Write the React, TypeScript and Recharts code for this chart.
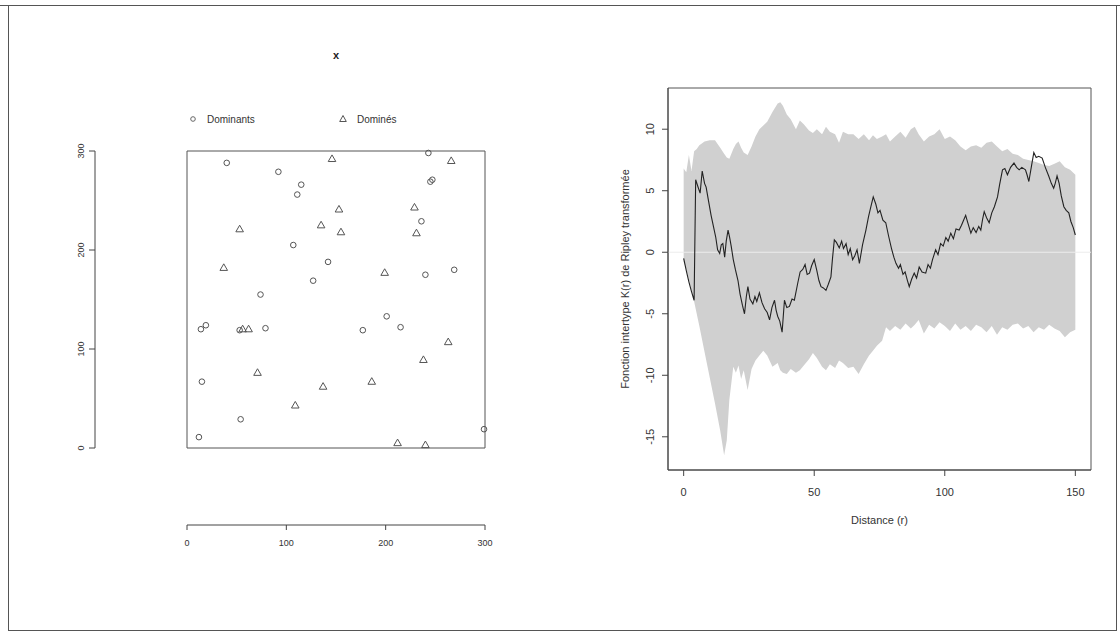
import React from 'react';
import {
  ScatterChart,
  Scatter,
  ComposedChart,
  Area,
  Line,
  XAxis,
  YAxis,
  ReferenceArea,
  ReferenceLine,
  Legend,
} from 'recharts';

const FONT = '"Liberation Sans", Arial, Helvetica, sans-serif';

// --- semis de points (à gauche) ---
const seriesNames = ['Dominants', 'Dominés'];
const domX = [40, 92, 115, 111, 243, 247, 245, 236, 107, 142, 240, 269, 127, 74, 201, 14, 19, 53, 79, 177, 215, 15, 54, 12, 299];
const domY = [288, 279, 266, 256, 298, 271, 269, 229, 205, 188, 175, 180, 169, 155, 133, 120, 124, 119, 121, 119, 122, 67, 29, 11, 19];
const subX = [146, 266, 153, 229, 53, 135, 155, 231, 37, 199, 56, 62, 263, 238, 71, 137, 186, 109, 212, 240];
const subY = [292, 290, 241, 243, 221, 225, 218, 217, 182, 177, 120, 120, 107, 89, 76, 62, 67, 43, 5, 3];
const winTicks = [0, 100, 200, 300];

// --- enveloppe de simulation (à droite) ---
const envR = [
  0, 1, 2, 3, 4, 5, 6, 8, 10, 12,
  14, 15.5, 16.5, 17.5, 19, 20, 21, 22, 23, 24.5,
  26, 27.5, 29, 30.5, 32, 34, 36, 37, 38, 39.5,
  41, 43, 44.5, 46, 48, 49.5, 51, 53, 54.5, 56,
  58, 59.5, 61, 63, 65, 67, 69, 71, 72.5, 74,
  76, 77.5, 79, 81, 83, 85, 87, 88.5, 90, 92,
  94, 96, 98, 100, 102, 104, 106, 108, 110, 112,
  114, 116, 118, 120, 122, 124, 126, 128, 130, 132,
  134, 136, 138, 140, 142, 144, 146, 148, 150,
];
const envHigh = [
  6.8, 6.5, 7.9, 6.6, 8.2, 8.4, 8.7, 9.0, 9.1, 9.1,
  8.5, 8.0, 7.7, 7.6, 8.4, 8.8, 9.0, 8.5, 8.1, 7.9,
  8.6, 9.4, 10.0, 10.3, 10.6, 11.4, 12.1, 12.2, 11.9, 11.2,
  10.8, 10.0, 10.7, 10.4, 9.9, 9.7, 10.0, 9.6, 10.2, 9.8,
  9.6, 8.9, 9.8, 9.6, 9.6, 9.2, 9.6, 9.1, 9.5, 9.2,
  9.4, 9.6, 9.0, 9.4, 9.8, 9.3, 10.0, 10.2, 9.6, 9.0,
  9.4, 9.6, 10.0, 9.2, 9.4, 9.1, 8.6, 8.3, 8.6, 8.7,
  8.5, 8.9, 9.0, 8.6, 8.2, 8.4, 8.0, 7.9, 7.6, 7.5,
  7.4, 7.25, 7.1, 7.0, 7.2, 7.4, 6.9, 6.7, 6.3,
];
const envLow = [
  -0.8, -1.4, -2.2, -3.1, -4.0, -5.0, -6.0, -8.1, -10.2, -12.3,
  -14.5, -16.5, -15.3, -12.0, -9.3, -9.8, -9.2, -10.3, -9.6, -11.2,
  -9.5, -8.8, -8.4, -8.0, -8.4, -9.3, -9.0, -9.6, -9.8, -9.9,
  -9.5, -9.8, -9.6, -9.2, -8.7, -8.2, -8.6, -9.3, -9.6, -9.1,
  -9.4, -8.8, -9.0, -9.4, -9.3, -9.9, -9.1, -8.4, -8.0, -7.6,
  -7.2, -6.1, -6.4, -6.0, -6.3, -5.8, -6.2, -5.9, -5.5, -6.6,
  -5.9, -6.2, -5.7, -6.0, -6.4, -5.8, -6.3, -6.0, -6.4, -5.9,
  -6.1, -6.5, -6.0, -6.7, -6.1, -6.3, -5.9, -5.8, -6.2, -6.0,
  -6.5, -6.1, -6.3, -5.9, -6.2, -6.4, -6.9, -6.5, -6.3,
];

// --- K(r) observée ---
const kR = [
  0, 1, 2, 3, 4, 4.6, 5.5, 6.3, 7.1, 8,
  8.6, 9.5, 10.5, 11.5, 12.3, 13, 13.8, 14.4, 15, 15.7,
  16.3, 17, 17.6, 18.2, 19, 19.8, 20.8, 21.6, 22.5, 23.3,
  24, 24.6, 25.4, 26.5, 27.3, 28, 29, 30, 31, 32,
  32.9, 33.8, 34.8, 35.4, 36, 36.8, 37.7, 38.6, 39.5, 40.5,
  41.5, 42.4, 43.7, 44.6, 45.6, 46.5, 47.3, 48.2, 49, 50,
  51, 51.8, 52.6, 53.5, 54.5, 55.4, 56.4, 57, 57.7, 58.5,
  59.6, 60.5, 61.2, 62.2, 63, 63.8, 64.7, 65.5, 66.4, 67.3,
  68.5, 69.8, 70.8, 71.7, 72.6, 73.6, 74.4, 75.2, 76.3, 77.4,
  78.5, 79.6, 80.5, 81.3, 82.3, 83, 84, 84.8, 85.7, 86.4,
  87.3, 88.3, 89.2, 90.2, 91.3, 92.7, 93.6, 94.5, 95.3, 96.5,
  97.4, 98.4, 99.4, 100.4, 101.3, 102.3, 103.3, 104.3, 105.5, 106.4,
  107.2, 108, 108.8, 110, 110.9, 112, 113, 113.8, 114.5, 115.1,
  116, 117, 118, 119, 120.2, 121, 122.1, 123, 124, 125.2,
  126.5, 127.5, 128.5, 129.5, 130.9, 131.5, 132.2, 133.2, 134.1, 135,
  136, 137.3, 138.5, 139.8, 140.8, 141.7, 142.3, 143, 143.8, 144.6,
  145.6, 146.5, 147.5, 148.3, 149.2, 150,
];
const kVal = [
  -0.5, -1.5, -2.4, -3.2, -3.9, 5.9, 5.3, 4.8, 6.6, 5.6,
  5.3, 4.2, 3.0, 2.0, 1.2, 0.2, -0.1, 0.6, 0.7, -0.4,
  0.9, 1.8, 1.2, 0.5, -0.6, -1.4, -2.3, -3.4, -4.3, -5.0,
  -3.6, -2.8, -3.8, -4.2, -3.6, -4.0, -3.3, -4.1, -4.6, -4.9,
  -5.5, -4.5, -3.9, -4.7, -5.2, -5.6, -6.5, -3.9, -4.5, -4.4,
  -3.8, -3.9, -2.5, -1.6, -1.4, -1.0, -1.8, -1.7, -1.1, -0.6,
  -1.5, -2.3, -2.8, -2.9, -3.1, -2.6, -2.0, -0.5, 1.0, 0.8,
  0.35, 0.9, 0.3, 0.7, -0.2, 0.3, -0.6, -0.3, 0.2, -0.9,
  0.6, 1.8, 2.9, 3.7, 4.5, 3.9, 3.2, 3.4, 2.6, 2.4,
  1.3, 0.3, -0.4, -0.9, -1.3, -1.0, -1.8, -1.6, -2.3, -2.8,
  -2.2, -1.7, -2.1, -1.2, -1.6, -1.7, -1.0, -1.3, -0.6, 0.2,
  -0.2, 0.7, 0.5, 1.2, 0.9, 1.55, 1.1, 1.9, 1.8, 2.2,
  2.6, 3.0, 2.4, 1.55, 2.0, 1.6, 2.1, 1.8, 2.7, 3.3,
  2.8, 2.4, 3.2, 3.7, 4.5, 5.5, 6.7, 6.8, 6.3, 6.9,
  7.25, 6.9, 6.7, 6.9, 6.7, 6.3, 5.75, 7.0, 8.1, 7.7,
  7.8, 7.65, 6.9, 6.2, 5.6, 5.2, 5.6, 6.2, 5.6, 4.6,
  3.7, 3.4, 3.2, 2.5, 2.0, 1.4,
];
const distTicks = [0, 50, 100, 150];
const kTicks = [-15, -10, -5, 0, 5, 10];

const domData = domX.map((x, i) => ({ x, y: domY[i] }));
const subData = subX.map((x, i) => ({ x, y: subY[i] }));
const envData = envR.map((r, i) => ({ r, lo: envLow[i], hi: envHigh[i] }));
const kData = kR.map((r, i) => ({ r, k: kVal[i] }));

const INK = '#444';

// symboles ouverts façon R (pch 1 et 2)
const OpenCircle = (p: any) => (
  <circle cx={p.cx} cy={p.cy} r={2.8} fill="none" stroke="#555" strokeWidth={1} />
);
const OpenTriangle = (p: any) => (
  <path
    d={`M${p.cx},${p.cy - 4}L${p.cx + 3.8},${p.cy + 2.6}L${p.cx - 3.8},${p.cy + 2.6}Z`}
    fill="none"
    stroke="#555"
    strokeWidth={1}
  />
);

// étiquettes verticales des graduations (las = 0)
const SideTick = ({ x, y, payload, shift, size }: any) => {
  const bx = x - shift;
  return (
    <text
      x={bx}
      y={y}
      transform={`rotate(-90 ${bx} ${y})`}
      textAnchor="middle"
      fontSize={size}
      fontFamily={FONT}
      fill="#333"
    >
      {payload.value}
    </text>
  );
};

const PatternLegend = ({ payload }: any) => {
  const names: string[] = payload && payload.length ? payload.map((p: any) => p.value) : seriesNames;
  return (
    <div style={{ display: 'flex', fontFamily: FONT, fontSize: 10, color: '#333' }}>
      {names.map((name, i) => (
        <div key={name} style={{ width: 150, display: 'flex', alignItems: 'center' }}>
          <svg width={19} height={12}>
            {i === 0 ? (
              <circle cx={5} cy={6} r={2.3} fill="none" stroke="#666" />
            ) : (
              <path d="M5,2.5L8.3,8.5L1.7,8.5Z" fill="none" stroke="#555" />
            )}
          </svg>
          <span>{name}</span>
        </div>
      ))}
    </div>
  );
};

const YTitle = (props: any) => {
  const vb = props && props.viewBox;
  const cx = vb ? vb.x + 69 : 69;
  const cy = vb ? vb.y + vb.height / 2 : 279;
  return (
    <text
      x={cx}
      y={cy}
      transform={`rotate(-90 ${cx} ${cy})`}
      textAnchor="middle"
      fontSize={11}
      fontFamily={FONT}
      fill="#333"
    >
      Fonction intertype K(r) de Ripley transformée
    </text>
  );
};

const frameLine = (left: number, top: number, width: number, height: number) => (
  <div style={{ position: 'absolute', left, top, width, height, background: '#555' }} />
);

export default function App() {
  return (
    <div
      style={{
        position: 'absolute',
        left: 0,
        top: 0,
        width: 1120,
        height: 635,
        background: '#fff',
        fontFamily: FONT,
        overflow: 'hidden',
      }}
    >
      {/* bord de la page scannée */}
      {frameLine(0, 5, 1120, 1)}
      {frameLine(8, 5, 1, 626)}
      {frameLine(1116, 5, 1, 626)}
      {frameLine(8, 630, 1109, 1)}

      <div
        style={{
          position: 'absolute',
          left: 316,
          top: 49,
          width: 40,
          textAlign: 'center',
          fontWeight: 'bold',
          fontSize: 11,
          color: '#222',
        }}
      >
        x
      </div>

      <div style={{ position: 'absolute', left: 0, top: 0 }}>
        <ScatterChart
          width={600}
          height={635}
          margin={{ top: 151, right: 115, bottom: 80, left: 65 }}
          style={{ fontFamily: FONT }}
        >
          <XAxis xAxisId="pad" dataKey="x" type="number" domain={[0, 300]} height={77} axisLine={false} tickLine={false} tick={false} />
          <XAxis
            xAxisId="win"
            dataKey="x"
            type="number"
            domain={[0, 300]}
            ticks={winTicks}
            height={30}
            tickSize={5}
            tickMargin={10}
            axisLine={{ stroke: INK }}
            tickLine={{ stroke: INK }}
            tick={{ fontSize: 9, fill: '#333' }}
          />
          <YAxis yAxisId="pad" dataKey="y" type="number" domain={[0, 300]} width={92} axisLine={false} tickLine={false} tick={false} />
          <YAxis
            yAxisId="win"
            dataKey="y"
            type="number"
            domain={[0, 300]}
            ticks={winTicks}
            width={30}
            tickSize={6}
            axisLine={{ stroke: INK }}
            tickLine={{ stroke: INK }}
            tick={<SideTick shift={3} size={9} />}
          />
          <ReferenceArea xAxisId="win" yAxisId="win" x1={0} x2={300} y1={0} y2={300} fill="none" stroke="#555" strokeWidth={1} />
          <Legend
            layout="horizontal"
            verticalAlign="middle"
            align="center"
            content={<PatternLegend />}
            wrapperStyle={{ left: 188, top: 113, width: 320 }}
          />
          <Scatter
            name={seriesNames[0]}
            data={domData}
            xAxisId="win"
            yAxisId="win"
            shape={OpenCircle}
            isAnimationActive={false}
          />
          <Scatter
            name={seriesNames[1]}
            data={subData}
            xAxisId="win"
            yAxisId="win"
            shape={OpenTriangle}
            isAnimationActive={false}
          />
        </ScatterChart>
      </div>

      <div style={{ position: 'absolute', left: 560, top: 0 }}>
        <ComposedChart
          width={560}
          height={635}
          margin={{ top: 88, right: 29, bottom: 105, left: 0 }}
          style={{ fontFamily: FONT }}
        >
          <XAxis
            dataKey="r"
            type="number"
            domain={[-6, 156]}
            allowDataOverflow
            ticks={distTicks}
            height={60}
            tickSize={6}
            tickMargin={12}
            axisLine={{ stroke: INK }}
            tickLine={{ stroke: INK }}
            tick={{ fontSize: 11, fill: '#333' }}
            label={{ value: 'Distance (r)', position: 'insideBottom', offset: 6, fontSize: 11, fill: '#333' }}
          />
          <YAxis
            type="number"
            domain={[-17.7, 13.35]}
            allowDataOverflow
            ticks={kTicks}
            width={108}
            tickSize={6}
            axisLine={{ stroke: INK }}
            tickLine={{ stroke: INK }}
            tick={<SideTick shift={6} size={11} />}
            label={YTitle}
          />
          <Area
            data={envData}
            dataKey={(d: any) => [d.lo, d.hi]}
            type="linear"
            fill="#d0d0d0"
            fillOpacity={1}
            stroke="none"
            isAnimationActive={false}
          />
          <ReferenceLine y={0} stroke="#ececec" strokeWidth={1} />
          <Line
            data={kData}
            dataKey="k"
            type="linear"
            stroke="#222"
            strokeWidth={1.1}
            dot={false}
            isAnimationActive={false}
          />
          <ReferenceArea x1={-6} x2={156} y1={-17.7} y2={13.35} fill="none" stroke="#555" strokeWidth={1} />
        </ComposedChart>
      </div>
    </div>
  );
}
